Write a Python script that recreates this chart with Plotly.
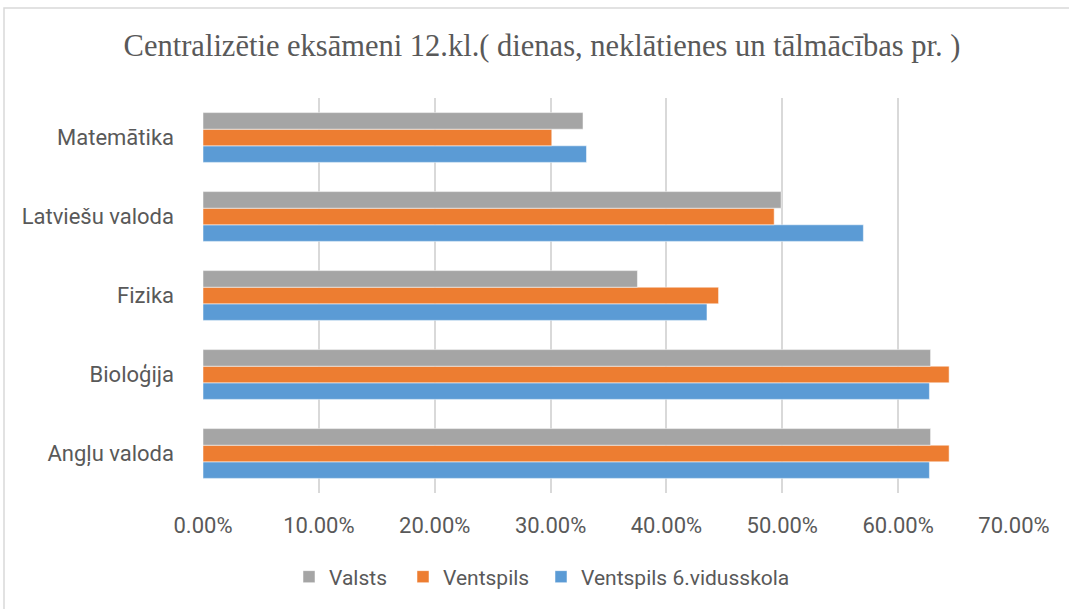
import plotly.graph_objects as go

categories = ["Angļu valoda", "Bioloģija", "Fizika", "Latviešu valoda", "Matemātika"]
valsts = [0.628, 0.628, 0.375, 0.499, 0.328]
ventspils = [0.644, 0.644, 0.445, 0.493, 0.301]
v6 = [0.627, 0.627, 0.435, 0.570, 0.331]
x_ticks = [0, 0.1, 0.2, 0.3, 0.4, 0.5, 0.6, 0.7]

W, H = 1069, 609
L, R, T, B = 203, 55, 98, 116
PW, PH = W - L - R, H - T - B

series = [
    ("Ventspils 6.vidusskola", v6, "#5B9BD5", "legend3", 561),
    ("Ventspils", ventspils, "#ED7D31", "legend2", 423),
    ("Valsts", valsts, "#A5A5A5", "legend", 309),
]

fig = go.Figure()
# first trace sits at the bottom of each group
for name, vals, color, leg, _ in series:
    fig.add_trace(go.Bar(
        y=categories, x=vals, name=name, orientation="h", legend=leg,
        marker=dict(color=color, line=dict(color="rgba(255,255,255,0.5)", width=1)),
    ))

# one legend per series so each entry can sit where the original has it
legend_font = dict(family="Roboto", size=21, color="#595959")
legends = {}
for _, _, _, leg, px in series:
    legends[leg] = dict(
        orientation="h", x=(px - 20) / W, xanchor="left", xref="container",
        y=1 - 577 / H, yanchor="middle", yref="container",
        font=legend_font, itemwidth=30, bgcolor="rgba(0,0,0,0)",
    )

fig.update_layout(
    width=W, height=H,
    margin=dict(l=L, r=R, t=T, b=B),
    barmode="group", bargap=0.37, bargroupgap=0,
    plot_bgcolor="white", paper_bgcolor="white",
    title=dict(
        text="Centralizētie eksāmeni 12.kl.( dienas, neklātienes un tālmācības pr. )",
        font=dict(family="Liberation Serif", size=30.5, color="#595959"),
        x=542 / W, xanchor="center", y=1 - 45 / H, yanchor="middle",
    ),
    xaxis=dict(
        range=[0, 0.7], tickvals=x_ticks, tickformat=".2%",
        showgrid=True, gridcolor="#D9D9D9", gridwidth=1.5,
        zeroline=False, showline=False, ticks="",
        ticklabelstandoff=17,
        tickfont=dict(family="Roboto", size=22, color="#595959"),
    ),
    yaxis=dict(
        showgrid=False, zeroline=False, showline=False, ticks="",
        ticklabelstandoff=28,
        tickfont=dict(family="Roboto", size=22, color="#595959"),
    ),
    showlegend=True,
    shapes=[dict(
        type="rect", xref="paper", yref="paper",
        x0=(4 - L) / PW, x1=(1080 - L) / PW,
        y0=-(620 - (H - B)) / PH, y1=1 + (T - 8) / PH,
        line=dict(color="#D9D9D9", width=1.5), layer="below",
    )],
    **legends,
)

fig.write_html(
    "out.html",
    config={"displayModeBar": False},
    post_script="document.body.style.margin='0';",
)
